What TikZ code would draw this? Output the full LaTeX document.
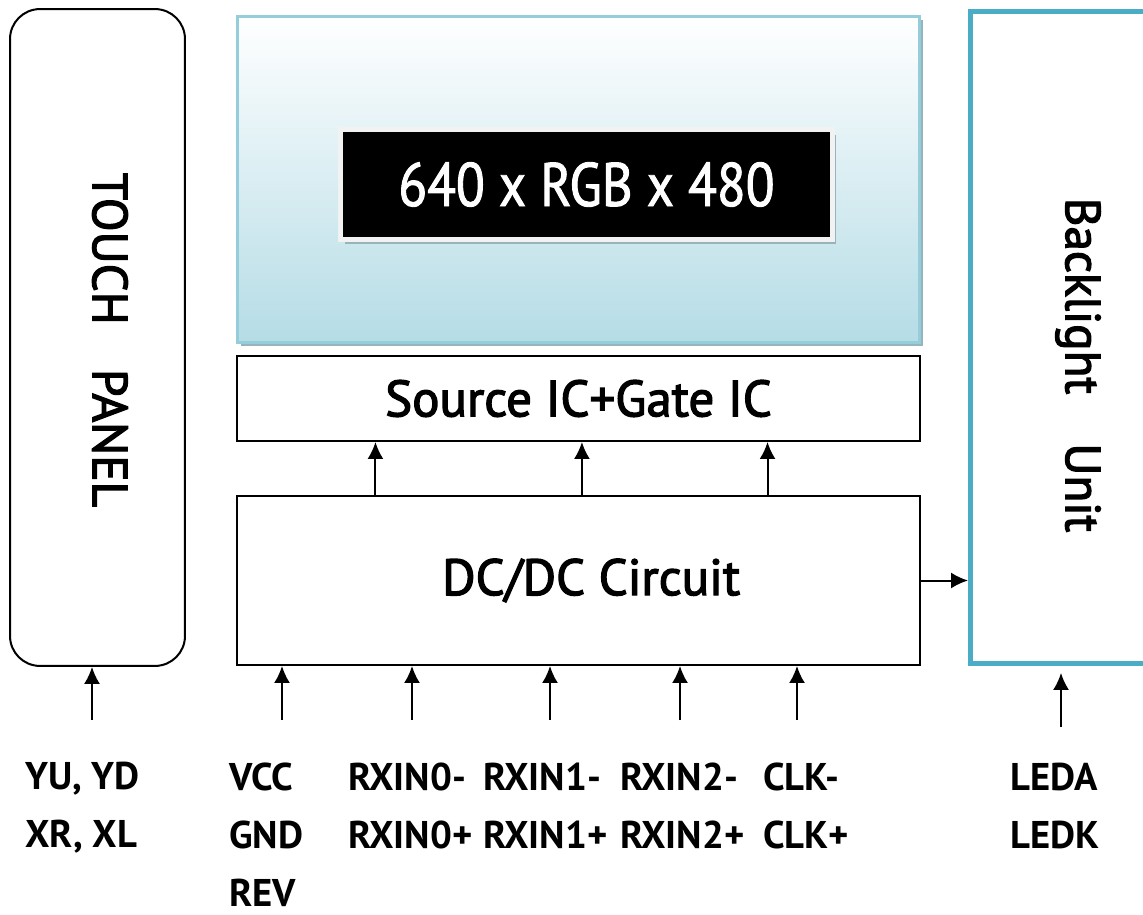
\documentclass[tikz,border=0pt]{standalone}
\usepackage{fontspec}
\setmainfont{PT Sans}
\newfontfamily\medfont[FakeBold=2.5]{PT Sans}
\newfontfamily\condfont[FakeStretch=0.86,FakeBold=1.5]{PT Sans}
\usetikzlibrary{arrows.meta,calc,positioning,shadows}
\definecolor{lcdblue}{RGB}{181,220,230}
\definecolor{lcdline}{RGB}{150,205,218}
\definecolor{lcdshade}{RGB}{150,180,188}
\definecolor{blline}{RGB}{75,172,198}
\tikzset{every picture/.style={
  >={Latex[length=0.34cm,width=0.32cm]}   % Filled arrow heads.
  }
}

\begin{document}
\begin{tikzpicture}[
    x=0.02cm, y=-0.02cm,
    box/.style={
      draw,
      line width=0.04cm,
      inner sep=0pt
    },
    sig/.style={
      anchor=north west,
      inner sep=0pt,
      align=left,
      font=\bfseries\fontsize{22}{33}\selectfont
    },
    vlabel/.style={
      rotate=-90,
      font=\medfont\fontsize{28}{34}\selectfont
    },
    link/.style={->,line width=0.04cm}]

    \useasboundingbox (0,0) rectangle (1143,915);

    % Helper macros.
    \def\inp#1#2#3{ \coordinate (#1) at (#2,720);
      \draw[link] (#1) -- (#1 |- #3.south) }
    \def\up#1{ \draw[link] ($(dc.north west)!#1!(dc.north east)$) --
      ($(src.south west)!#1!(src.south east)$) }

    % Draw the touch panel and the backlight.
    \node[box,rounded corners=0.6cm,minimum width=3.5cm,
      minimum height=13.14cm] (touch) at (97.5,337.5) {};
    \node[vlabel] (touchtxt) at (110,340) {TOUCH\hspace{0.9em}PANEL};
    \node[draw=blline,line width=0.1cm,minimum width=4.3cm,
      minimum height=13.04cm] (bl) at (1078,337.5) {};
    \node[vlabel] (bltxt) at (1078,365) {Backlight\hspace{1em}Unit};

    % Draw the LCD glass with its resolution.
    \node[draw=lcdline,line width=0.06cm,top color=white,
      middle color=lcdblue!45!white,bottom color=lcdblue,
      minimum width=13.66cm,minimum height=6.54cm,
      drop shadow={shadow xshift=0.07cm,shadow yshift=-0.07cm,
        fill=lcdshade,opacity=1}] (lcd) at (578.5,179.5) {};
    \node[fill=black,draw=black!5,line width=0.1cm,text=white,
      minimum width=9.84cm,minimum height=2.2cm,
      font=\condfont\fontsize{35}{40}\selectfont,
      drop shadow={shadow xshift=0.08cm,shadow yshift=-0.1cm,
        fill=lcdshade,opacity=1}] (chip) at (586.5,184.5)
      {640 x RGB x 480};

    % Draw the driver blocks.
    \node[box,minimum width=13.66cm,minimum height=1.7cm,
      font=\medfont\fontsize{29}{34}\selectfont] (src) at (578.5,398.5)
      {Source IC+Gate IC};
    \node[box,minimum width=13.66cm,minimum height=3.38cm,
      font=\medfont\fontsize{29}{34}\selectfont] (dc) at (578.5,580.5)
      {\hspace{0.5em}DC/DC Circuit};

    \up{.2035};
    \up{.505};
    \up{.776};
    \draw[link] (dc.east) -- (dc.east -| bl.west);

    % Draw the inputs.
    \inp{fTP}{92}{touch};
    \inp{fVCC}{282}{dc};
    \inp{fRX0}{412}{dc};
    \inp{fRX1}{550}{dc};
    \inp{fRX2}{680}{dc};
    \inp{fCLK}{797}{dc};
    \coordinate (fLED) at (1061,727);
    \draw[link,shorten >=0.14cm] (fLED) -- (fLED |- bl.south);

    \node[sig] (tp) at (25,762) {YU, YD\\XR, XL};
    \node[sig] (pwr) at (229,763) {VCC\\GND\\REV};
    \node[sig] (rx0) at (348,763) {RXIN0-\\RXIN0+};
    \node[sig] (rx1) at (483,763) {RXIN1-\\RXIN1+};
    \node[sig] (rx2) at (620,763) {RXIN2-\\RXIN2+};
    \node[sig] (clk) at (763,763) {CLK-\\CLK+};
    \node[sig] (led) at (1010,763) {LEDA\\LEDK};

  \end{tikzpicture}
\end{document}
